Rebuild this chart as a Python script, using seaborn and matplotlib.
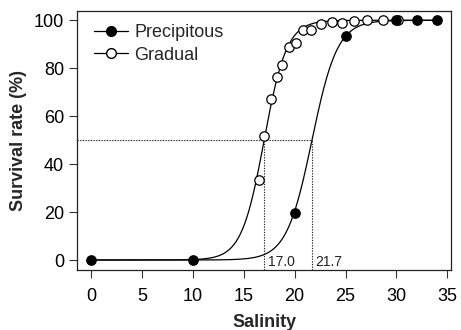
import numpy as np
import pandas as pd
import matplotlib
matplotlib.use("Agg")
import matplotlib.pyplot as plt
import seaborn as sns
from matplotlib.lines import Line2D

# Observed survival (%) at each salinity
precip_salinity = [0, 10, 20, 25, 30, 32, 34]
precip_survival = [0, 0, 19.5, 93.5, 100, 100, 100]

gradual_salinity = [16.45, 17.0, 17.65, 18.25, 18.8, 19.4, 20.1, 20.85,
                    21.65, 22.55, 23.65, 24.65, 25.8, 27.1, 28.7, 30.2]
gradual_survival = [33.5, 51.7, 67.2, 76.4, 81.2, 88.9, 90.7, 96.1,
                    96.1, 98.3, 99.4, 98.9, 99.6, 100, 100, 100]

# Fitted logistic parameters (salinity at 50 % survival, slope)
ec50_precip = 21.7
ec50_gradual = 17.0
slope_precip = 0.8
slope_gradual = 0.9

xticks = [0, 5, 10, 15, 20, 25, 30, 35]
yticks = [0, 20, 40, 60, 80, 100]

sns.set_theme(style="white")
plt.rcParams["font.family"] = ["Liberation Sans", "DejaVu Sans"]


def logistic(x, x50, k):
    return 100.0 / (1.0 + np.exp(-k * (x - x50)))


grid = np.linspace(0, 34, 500)
curves = pd.DataFrame({
    "salinity": np.concatenate([grid, grid]),
    "survival": np.concatenate([logistic(grid, ec50_precip, slope_precip),
                                logistic(grid, ec50_gradual, slope_gradual)]),
    "group": ["Precipitous"] * len(grid) + ["Gradual"] * len(grid),
})
pts_p = pd.DataFrame({"salinity": precip_salinity, "survival": precip_survival})
pts_g = pd.DataFrame({"salinity": gradual_salinity, "survival": gradual_survival})

fig = plt.figure(figsize=(4.61, 3.30), dpi=100)
ax = fig.add_axes([77.3 / 461, 1 - 269.6 / 330, (451.0 - 77.3) / 461, (269.6 - 10.7) / 330])

sns.lineplot(data=curves, x="salinity", y="survival", units="group", estimator=None,
             color="black", linewidth=0.9, ax=ax, legend=False)

# Dotted guides at 50 % survival
ax.plot([-1.36, ec50_precip], [50, 50], color="#222222", lw=0.8, ls=(0, (1.2, 1.2)))
for x50 in (ec50_gradual, ec50_precip):
    ax.plot([x50, x50], [-4, 50], color="#222222", lw=0.8, ls=(0, (1.2, 1.2)))
    ax.annotate(f"{x50:.1f}", xy=(x50, -0.8), xytext=(2.5, 0), textcoords="offset points",
                ha="left", va="center", fontsize=10, color="#222222")

sns.scatterplot(data=pts_g, x="salinity", y="survival", marker="o", s=46,
                facecolor="white", edgecolor="black", linewidth=0.9, ax=ax, zorder=3)
sns.scatterplot(data=pts_p, x="salinity", y="survival", marker="o", s=46,
                color="black", edgecolor="black", linewidth=0.9, ax=ax, zorder=4)

ax.set_xlim(-1.36, 35.36)
ax.set_ylim(-4, 104)
ax.set_xticks(xticks)
ax.set_yticks(yticks)
ax.tick_params(axis="both", direction="out", length=5.5, width=0.8, color="#333333",
               labelsize=13, labelcolor="black", bottom=True, left=True)
ax.tick_params(axis="x", pad=8)
ax.tick_params(axis="y", pad=4)
for sp in ax.spines.values():
    sp.set_color("#222222")
    sp.set_linewidth(0.9)

ax.set_xlabel("Salinity", fontsize=13, fontweight="bold", labelpad=6)
ax.set_ylabel("Survival rate (%)", fontsize=13, fontweight="bold", labelpad=5)

handles = [
    Line2D([], [], color="black", lw=0.9, marker="o", markersize=7,
           markerfacecolor="black", markeredgecolor="black"),
    Line2D([], [], color="black", lw=0.9, marker="o", markersize=7,
           markerfacecolor="white", markeredgecolor="black"),
]
ax.legend(handles, ["Precipitous", "Gradual"], loc="upper left", frameon=False,
          fontsize=13, handlelength=1.9, handletextpad=0.35, labelspacing=0.3,
          borderaxespad=0.0, bbox_to_anchor=(0.025, 0.975))

fig.savefig("out.png", dpi=100)
